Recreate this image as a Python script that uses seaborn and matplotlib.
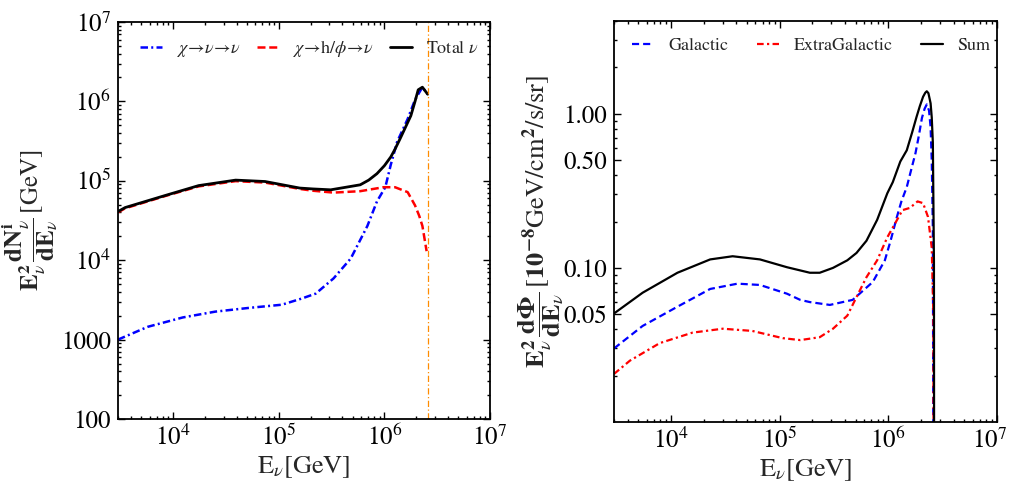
import numpy as np
import pandas as pd
import matplotlib
matplotlib.use("Agg")
import matplotlib.pyplot as plt
import matplotlib.ticker as mticker
import matplotlib.transforms as mtransforms
import seaborn as sns

# ---------------- data ----------------
# Left panel: E^2 dN/dE [GeV]
left_E_total = [3.0e3, 3.5e3, 8.3e3, 1.74e4, 3.9e4, 7.4e4, 1.58e5, 2.1e5, 3.1e5,
                5.9e5, 7.1e5, 8.5e5, 1.0e6, 1.15e6, 1.26e6, 1.41e6, 1.58e6, 1.78e6,
                1.95e6, 2.09e6, 2.29e6, 2.57e6]
left_total = [4.1e4, 4.6e4, 6.5e4, 8.7e4, 1.02e5, 9.8e4, 8.1e4, 7.9e4, 7.7e4,
              8.9e4, 1.02e5, 1.23e5, 1.55e5, 2.0e5, 2.5e5, 3.4e5, 4.7e5, 6.6e5,
              1.0e6, 1.4e6, 1.51e6, 1.23e6]

left_E_h = [3.0e3, 3.5e3, 8.3e3, 1.74e4, 3.9e4, 7.4e4, 1.58e5, 2.1e5, 3.3e5,
            5.9e5, 9.8e5, 1.26e6, 1.66e6, 1.95e6, 2.14e6, 2.29e6, 2.51e6]
left_h = [4.0e4, 4.5e4, 6.4e4, 8.5e4, 9.9e4, 9.5e4, 7.9e4, 7.5e4, 7.1e4,
          7.4e4, 8.3e4, 8.3e4, 7.2e4, 4.9e4, 3.6e4, 2.7e4, 1.3e4]

left_E_nu = [3.0e3, 5.75e3, 1.23e4, 2.5e4, 5.1e4, 1.07e5, 1.66e5, 2.24e5, 3.3e5,
             4.8e5, 6.9e5, 8.5e5, 1.02e6, 1.15e6, 1.32e6, 1.66e6, 1.95e6, 2.29e6,
             2.57e6]
left_nu = [1.0e3, 1.45e3, 1.9e3, 2.25e3, 2.5e3, 2.75e3, 3.3e3, 3.8e3, 5.9e3,
           1.05e4, 2.7e4, 5.5e4, 8.3e4, 1.6e5, 3.1e5, 6.0e5, 1.05e6, 1.51e6,
           1.23e6]

cutoff_E = 2.6e6

# Right panel: E^2 dPhi/dE [1e-8 GeV/cm^2/s/sr]
right_E_sum = [3.0e3, 5.5e3, 1.15e4, 2.3e4, 3.7e4, 6.6e4, 1.17e5, 1.9e5, 2.34e5,
               3.1e5, 4.2e5, 5.1e5, 6.3e5, 7.9e5, 9.8e5, 1.1e6, 1.29e6, 1.48e6,
               1.66e6, 1.82e6, 1.95e6, 2.09e6, 2.19e6, 2.26e6, 2.34e6, 2.45e6,
               2.51e6, 2.57e6, 2.63e6, 2.65e6]
right_sum = [0.0506, 0.069, 0.093, 0.1135, 0.119, 0.1135, 0.101, 0.093, 0.093,
             0.100, 0.112, 0.125, 0.150, 0.205, 0.305, 0.36, 0.49, 0.58,
             0.76, 0.955, 1.12, 1.29, 1.37, 1.40, 1.36, 1.17, 0.95, 0.65, 0.11, 1e-4]

right_E_gal = [3.0e3, 5.5e3, 1.15e4, 2.3e4, 4.1e4, 6.6e4, 1.17e5, 1.55e5, 1.9e5,
               2.9e5, 4.7e5, 7.2e5, 9.3e5, 1.05e6, 1.2e6, 1.32e6, 1.48e6, 1.62e6,
               1.78e6, 1.91e6, 2.04e6, 2.16e6, 2.26e6, 2.37e6, 2.45e6, 2.51e6,
               2.57e6, 2.63e6]
right_gal = [0.030, 0.042, 0.056, 0.073, 0.079, 0.0775, 0.068, 0.062, 0.060,
             0.0575, 0.062, 0.081, 0.112, 0.150, 0.214, 0.27, 0.335, 0.43,
             0.556, 0.72, 0.94, 1.08, 1.15, 1.05, 0.82, 0.5, 0.18, 1e-4]

right_E_xg = [3.0e3, 4.2e3, 7.9e3, 1.58e4, 3.0e4, 5.6e4, 1.07e5, 1.55e5, 2.34e5,
              3.1e5, 4.2e5, 5.1e5, 6.3e5, 7.9e5, 9.8e5, 1.2e6, 1.35e6, 1.58e6,
              1.86e6, 2.09e6, 2.32e6, 2.51e6, 2.6e6, 2.63e6]
right_xg = [0.0205, 0.025, 0.0325, 0.038, 0.0403, 0.039, 0.035, 0.034, 0.0355,
            0.0403, 0.049, 0.0646, 0.087, 0.112, 0.158, 0.204, 0.237, 0.245,
            0.27, 0.263, 0.214, 0.135, 0.05, 1e-4]

left_labels = [r"$\chi\!\rightarrow\!\nu\!\rightarrow\!\nu$",
               r"$\chi\!\rightarrow\!\mathrm{h}/\phi\!\rightarrow\!\nu$",
               r"Total $\nu$"]
right_labels = ["Galactic", "ExtraGalactic", "Sum"]

x_ticks = [1e4, 1e5, 1e6, 1e7]
x_ticklabels = [r"$10^4$", r"$10^5$", r"$10^6$", r"$10^7$"]
left_yticks = [1e2, 1e3, 1e4, 1e5, 1e6, 1e7]
left_yticklabels = ["100", "1000", r"$10^4$", r"$10^5$", r"$10^6$", r"$10^7$"]
right_yticks = [0.05, 0.1, 0.5, 1.0]
right_yticklabels = ["0.05", "0.10", "0.50", "1.00"]

# ---------------- style ----------------
sns.set_theme(style="ticks")
plt.rcParams["font.family"] = ["STIXGeneral", "DejaVu Serif"]
plt.rcParams["mathtext.fontset"] = "stix"
plt.rcParams["axes.linewidth"] = 1.3
plt.rcParams["axes.edgecolor"] = "black"

fig = plt.figure(figsize=(10.12, 4.93), dpi=100)
axL = fig.add_axes([118/1012, 1-419/493, (490-118)/1012, (419-22)/493])
axR = fig.add_axes([614/1012, 1-422/493, (997-614)/1012, (422-21)/493])

BLUE = "#0000ff"
RED = "#ff0000"

def line(ax, x, y, color, ls, lw, label):
    df = pd.DataFrame({"E": x, "F": y})
    sns.lineplot(data=df, x="E", y="F", ax=ax, color=color, linestyle=ls,
                 linewidth=lw, sort=False, estimator=None, label=label)

# Left panel
line(axL, left_E_nu, left_nu, BLUE, (0, (3, 1.3, 0.8, 1.3)), 1.8, left_labels[0])
line(axL, left_E_h, left_h, RED, (0, (3.2, 1.5)), 1.8, left_labels[1])
line(axL, left_E_total, left_total, "black", "-", 2.0, left_labels[2])
axL.axvline(cutoff_E, color="darkorange", lw=0.9, linestyle=(0, (5, 2, 1, 2)))

# Right panel
line(axR, right_E_gal, right_gal, BLUE, (0, (3.2, 1.8)), 1.6, right_labels[0])
line(axR, right_E_xg, right_xg, RED, (0, (3, 1.5, 1, 1.5)), 1.6, right_labels[1])
line(axR, right_E_sum, right_sum, "black", "-", 1.6, right_labels[2])

for ax in (axL, axR):
    ax.set_xscale("log")
    ax.set_yscale("log")
    ax.set_xlim(3e3, 1e7)
    ax.set_xticks(x_ticks)
    ax.set_xticklabels(x_ticklabels)
    ax.xaxis.set_minor_locator(mticker.LogLocator(base=10, subs=np.arange(2, 10), numticks=20))
    ax.yaxis.set_minor_locator(mticker.LogLocator(base=10, subs=np.arange(2, 10), numticks=20))
    ax.xaxis.set_minor_formatter(mticker.NullFormatter())
    ax.yaxis.set_minor_formatter(mticker.NullFormatter())
    ax.tick_params(which="both", direction="in", top=True, right=True,
                   labelsize=18, width=1.0, colors="black")
    ax.tick_params(which="major", length=5, pad=5)
    ax.tick_params(which="minor", length=2.5)
    ax.set_xlabel(r"E$_\nu$[GeV]", fontsize=19, labelpad=2)
    for s in ax.spines.values():
        s.set_visible(True)
        s.set_color("black")

axL.set_ylim(1e2, 1e7)
axL.set_yticks(left_yticks)
axL.set_yticklabels(left_yticklabels)
axL.set_ylabel(r"$\mathbf{E}_\nu^{\mathbf{2}}\,\dfrac{\mathbf{dN}_\nu^{\mathbf{i}}}{\mathbf{dE}_\nu}\,$[GeV]",
               fontsize=18)
axL.yaxis.set_label_coords(-0.155, 0.5)

axR.set_ylim(0.01, 4.0)
axR.set_yticks(right_yticks)
axR.set_yticklabels(right_yticklabels)
axR.set_ylabel(r"$\mathbf{E}_\nu^{\mathbf{2}}\,\dfrac{\mathbf{d\Phi}}{\mathbf{dE}_\nu}\,[\mathbf{10^{-8}}$GeV/cm$^{\mathbf{2}}$/s/sr]",
               fontsize=19)
axR.yaxis.set_label_coords(-0.125, 0.5)

# nudge the last x tick label of the right panel so it stays inside the figure
last = axR.get_xticklabels()[-1]
last.set_transform(last.get_transform() + mtransforms.ScaledTranslation(-5/72, 0, fig.dpi_scale_trans))

axL.legend(loc="upper center", bbox_to_anchor=(0.515, 1.0), ncol=3, frameon=False,
           fontsize=13, handlelength=1.2, columnspacing=0.9, handletextpad=0.8)
axR.legend(loc="upper center", bbox_to_anchor=(0.515, 1.0), ncol=3, frameon=False,
           fontsize=13, handlelength=1.2, columnspacing=1.6, handletextpad=0.8)

fig.savefig("out.png", dpi=100)
